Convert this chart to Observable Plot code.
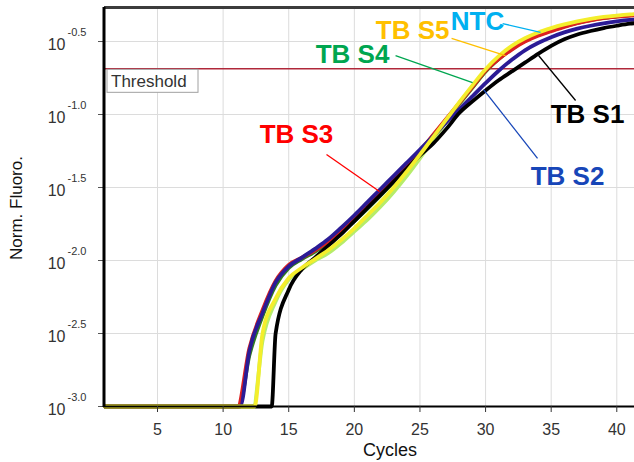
<!DOCTYPE html>
<html><head><meta charset="utf-8">
<script src="https://cdn.jsdelivr.net/npm/d3@7"></script>
<script src="https://cdn.jsdelivr.net/npm/@observablehq/plot@0.6"></script>
<style>
html,body{margin:0;padding:0;background:#fff;}
#chart{width:634px;height:462px;overflow:hidden;}
svg{display:block;}
</style></head><body><div id="chart"></div>
<script>
// ---- data (log10 of normalized fluorescence, per cycle) ----
const cycles = [1,2,3,4,5,6,7,8,9,10,11,12,13,14,15,16,17,18,19,20,21,22,23,24,25,26,27,28,29,30,31,32,33,34,35,36,37,38,39,40,41,42];
const seriesNames = ["NTC","TB S4","TB S3","TB S2","TB S1","TB S5"];
// cycle where each curve leaves the 10^-3 floor
const onsets = [12.3, 11.2, 11.1, 11.3, 13.7, 12.4];
const ntc = [-3,-3,-3,-3,-3,-3,-3,-3,-3,-3,-3,-3,
  -2.55,-2.28,-2.13,-2.06,-2.0,-1.95,-1.88,-1.8,-1.72,-1.63,-1.53,-1.42,-1.3,-1.175,-1.05,-0.93,-0.815,-0.705,-0.612,-0.542,-0.488,-0.447,-0.415,-0.39,-0.368,-0.35,-0.337,-0.327,-0.319,-0.313];
const tbS4 = [-3,-3,-3,-3,-3,-3,-3,-3,-3,-3,-3,
  -2.65,-2.38,-2.17,-2.05,-1.99,-1.94,-1.88,-1.81,-1.73,-1.645,-1.555,-1.46,-1.36,-1.255,-1.145,-1.035,-0.925,-0.815,-0.705,-0.62,-0.55,-0.495,-0.455,-0.425,-0.397,-0.373,-0.353,-0.338,-0.328,-0.32,-0.316];
const tbS3 = [-3,-3,-3,-3,-3,-3,-3,-3,-3,-3,-3,
  -2.6,-2.34,-2.14,-2.03,-1.98,-1.93,-1.87,-1.79,-1.71,-1.62,-1.53,-1.44,-1.35,-1.25,-1.14,-1.03,-0.92,-0.81,-0.70,-0.62,-0.555,-0.50,-0.46,-0.43,-0.40,-0.375,-0.355,-0.34,-0.33,-0.322,-0.318];
const tbS2 = [-3,-3,-3,-3,-3,-3,-3,-3,-3,-3,-3,
  -2.62,-2.36,-2.15,-2.04,-1.98,-1.92,-1.855,-1.775,-1.69,-1.6,-1.51,-1.42,-1.33,-1.24,-1.15,-1.055,-0.965,-0.875,-0.785,-0.70,-0.625,-0.56,-0.51,-0.47,-0.437,-0.412,-0.392,-0.375,-0.362,-0.352,-0.346];
const tbS1 = [-3,-3,-3,-3,-3,-3,-3,-3,-3,-3,-3,-3,-3,
  -2.5,-2.2,-2.06,-1.98,-1.9,-1.82,-1.73,-1.64,-1.55,-1.46,-1.37,-1.28,-1.2,-1.1,-0.99,-0.91,-0.835,-0.765,-0.705,-0.645,-0.585,-0.53,-0.485,-0.452,-0.428,-0.408,-0.392,-0.378,-0.37];
const tbS5 = [-3,-3,-3,-3,-3,-3,-3,-3,-3,-3,-3,-3,
  -2.5,-2.26,-2.12,-2.05,-1.99,-1.93,-1.86,-1.78,-1.69,-1.6,-1.5,-1.39,-1.275,-1.155,-1.035,-0.915,-0.8,-0.69,-0.6,-0.53,-0.478,-0.438,-0.408,-0.383,-0.362,-0.345,-0.332,-0.322,-0.314,-0.309];
const seriesValues = [ntc, tbS4, tbS3, tbS2, tbS1, tbS5];
const lineColors = ["#b6ec6a", "#2f7d1f", "#dd2020", "#2b1b96", "#000000", "#f4ee2c"];

const thresholdExp = -0.687;
const xTicks = [5,10,15,20,25,30,35,40];
const yTickExp = [-3.0,-2.5,-2.0,-1.5,-1.0,-0.5];

// annotation labels: text position and leader line (cycle, log10 value)
const annLabels = ["TB S3","TB S4","TB S5","NTC","TB S1","TB S2"];
const annColors = ["#ff0000","#00a650","#ffc000","#00b0f0","#000000","#1746b8"];
const annTextCycle = [15.59, 19.86, 24.44, 29.39, 37.77, 36.25];
const annTextExp   = [-1.137, -0.589, -0.425, -0.363, -1.0, -1.425];
const annFromCycle = [17.88, 23.14, 27.41, 31.3, 36.86, 33.96];
const annFromExp   = [-1.274, -0.596, -0.479, -0.377, -0.904, -1.301];
const annToCycle   = [21.92, 29.01, 31.52, 34.19, 34.04, 29.85];
const annToExp     = [-1.527, -0.781, -0.596, -0.438, -0.596, -0.829];

// ---- build tables ----
const rows = seriesNames.map((name, s) => {
  const vals = seriesValues[s], on = onsets[s], pts = [];
  cycles.forEach((c, i) => { if (c < on) pts.push({cycle: c, fluoro: 10 ** vals[i]}); });
  pts.push({cycle: on, fluoro: 1e-3});
  cycles.forEach((c, i) => { if (c > on) pts.push({cycle: c, fluoro: 10 ** vals[i]}); });
  return pts;
});
const ann = annLabels.map((t, i) => ({
  label: t, color: annColors[i],
  tx: annTextCycle[i], ty: 10 ** annTextExp[i],
  x1: annFromCycle[i], y1: 10 ** annFromExp[i],
  x2: annToCycle[i], y2: 10 ** annToExp[i]
}));

const xDomain = [0.96, 41.35];
const yDomain = [1e-3, 10 ** -0.267];
const font = "'Liberation Sans', Arial, sans-serif";

const chart = Plot.plot({
  width: 634, height: 462,
  marginLeft: 104, marginRight: 0, marginTop: 7, marginBottom: 56,
  style: {fontFamily: font, background: "#fff", overflow: "hidden"},
  x: {domain: xDomain},
  y: {type: "log", domain: yDomain},
  color: {type: "identity"},
  marks: [
    Plot.gridX(xTicks, {stroke: "#dcdcdc", strokeOpacity: 1}),
    Plot.gridY(yTickExp.map(e => 10 ** e), {stroke: "#dcdcdc", strokeOpacity: 1}),
    Plot.ruleY([10 ** thresholdExp], {stroke: "#b0283a", strokeWidth: 1.6}),
    ...rows.map((pts, s) => Plot.line(pts, {x: "cycle", y: "fluoro", stroke: lineColors[s], strokeWidth: 3.8, curve: "monotone-x"})),
    Plot.ruleY([yDomain[0]], {stroke: "#000", strokeWidth: 2}),
    Plot.ruleY([yDomain[1]], {stroke: "#3c3c3c", strokeWidth: 3}),
    Plot.axisX(xTicks, {tickSize: 6, tickPadding: 11, fontSize: 16, color: "#333", label: null}),
    Plot.axisY(yTickExp.map(e => 10 ** e), {tickSize: 6, tickFormat: () => "", color: "#555", label: null}),
    Plot.text(yTickExp, {y: e => 10 ** e, frameAnchor: "left", text: () => "10", textAnchor: "end", dx: -39, dy: 3, fontSize: 16, fill: "#333"}),
    Plot.text(yTickExp, {y: e => 10 ** e, frameAnchor: "left", text: e => e.toFixed(1), textAnchor: "start", dx: -37, dy: -9.5, fontSize: 11, fill: "#333"}),
    Plot.link(ann, {x1: "x1", y1: "y1", x2: "x2", y2: "y2", stroke: "color", strokeWidth: 1.3}),
    Plot.text(ann, {x: "tx", y: "ty", text: "label", fill: "color", fontSize: 26, fontWeight: "bold", ariaLabel: "annlabels"})
  ]
});

document.getElementById("chart").appendChild(chart);

const svg = d3.select(chart);
const xs = chart.scale("x"), ys = chart.scale("y");

// left axis line (thick black), placed with the plot's own scales
svg.append("line")
  .attr("x1", xs.apply(xDomain[0])).attr("x2", xs.apply(xDomain[0]))
  .attr("y1", ys.apply(yDomain[1])).attr("y2", ys.apply(yDomain[0]) + 1)
  .attr("stroke", "#000").attr("stroke-width", 3);

// threshold label box and axis titles
const bx = xs.apply(xDomain[0]) + 3, by = ys.apply(10 ** thresholdExp) + 1;
const g = svg.append("g").attr("text-anchor", "start");
g.append("rect").attr("x", bx).attr("y", by).attr("width", 91).attr("height", 23)
  .attr("fill", "#fff").attr("stroke", "#a0a0a0").attr("stroke-width", 1);
g.append("text").attr("x", bx + 4).attr("y", by + 18).attr("font-size", 17)
  .attr("font-family", font).attr("fill", "#333").text("Threshold");
svg.append("text").attr("x", 390).attr("y", 456).attr("text-anchor", "middle")
  .attr("font-size", 18).attr("font-family", font).attr("fill", "#111").text("Cycles");
svg.append("text").attr("transform", "translate(22,208) rotate(-90)").attr("text-anchor", "middle")
  .attr("font-size", 17).attr("font-family", font).attr("fill", "#111").text("Norm. Fluoro.");

// condense the bold annotation labels (reference uses a narrow bold face)
svg.selectAll('g[aria-label="annlabels"] text').each(function () {
  const w = this.getComputedTextLength();
  this.setAttribute("textLength", (w * 0.83).toFixed(1));
  this.setAttribute("lengthAdjust", "spacingAndGlyphs");
});
</script>
</body></html>
